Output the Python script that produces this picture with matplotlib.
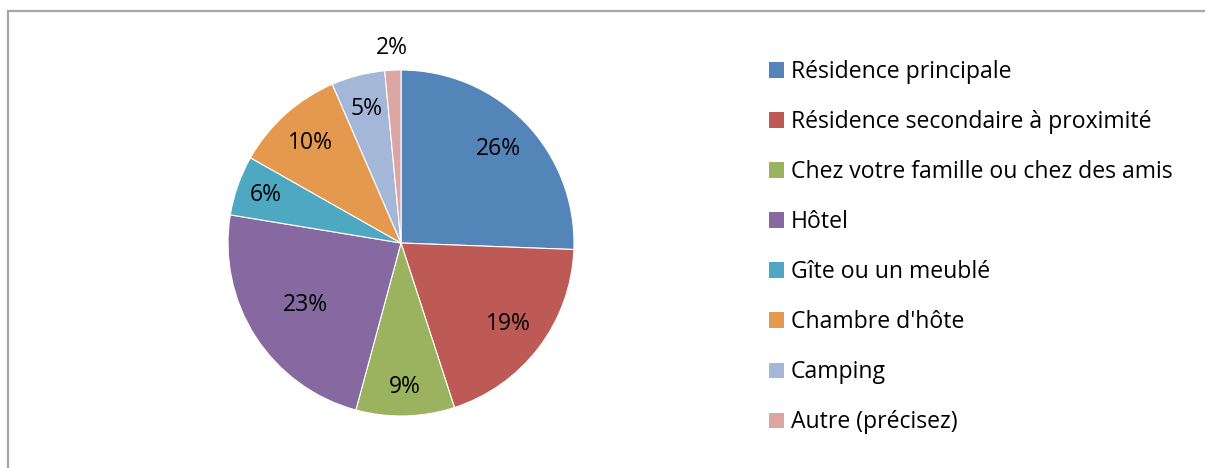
import matplotlib
matplotlib.use("Agg")
import matplotlib.pyplot as plt
from matplotlib.patches import Rectangle, Patch
import numpy as np

categories = ["Résidence principale", "Résidence secondaire à proximité",
              "Chez votre famille ou chez des amis", "Hôtel", "Gîte ou un meublé",
              "Chambre d'hôte", "Camping", "Autre (précisez)"]
values = [25.6, 19.4, 9.2, 23.4, 5.6, 10.3, 5.0, 1.5]
colors = ["#5485B9", "#BE5A55", "#9BB35E", "#8569A0", "#4FA8C2", "#E4994F", "#A4B7D9", "#DBA5A4"]
label_dist = [0.78, 0.78, 0.83, 0.66, 0.83, 0.78, 0.80, 1.13]

plt.rcParams['font.family'] = ['Open Sans', 'DejaVu Sans']

W, H = 1205, 468
fig = plt.figure(figsize=(W / 100, H / 100), dpi=100)

# frame
fig.patches.append(Rectangle((8 / W, -0.2), 1.5, 1.2 - 11 / H, transform=fig.transFigure,
                             fill=False, edgecolor="#A6A6A6", linewidth=1.6))

cx, cy, r = 401, 243, 173
ax = fig.add_axes([(cx - r) / W, (H - cy - r) / H, 2 * r / W, 2 * r / H])
wedges, _ = ax.pie(values, colors=colors, startangle=90, counterclock=False,
                   radius=1.0, wedgeprops=dict(edgecolor="white", linewidth=0.8))
ax.set_xlim(-1, 1)
ax.set_ylim(-1, 1)
ax.set_aspect("equal")
ax.axis("off")

for w, v, d in zip(wedges, values, label_dist):
    ang = np.deg2rad((w.theta1 + w.theta2) / 2)
    ax.text(d * np.cos(ang), d * np.sin(ang), f"{int(v + 0.5)}%", ha="center", va="center",
            fontsize=16.5, color="black", clip_on=False)

handles = [Patch(facecolor=c, edgecolor="none") for c in colors]
fig.legend(handles, categories, loc="upper left", bbox_to_anchor=(769 / W, 1 - 60 / H),
           frameon=False, fontsize=16.6, handlelength=0.65, handleheight=0.65,
           handletextpad=0.3, labelspacing=1.13, borderaxespad=0, borderpad=0)

fig.savefig("out.png", dpi=100)
